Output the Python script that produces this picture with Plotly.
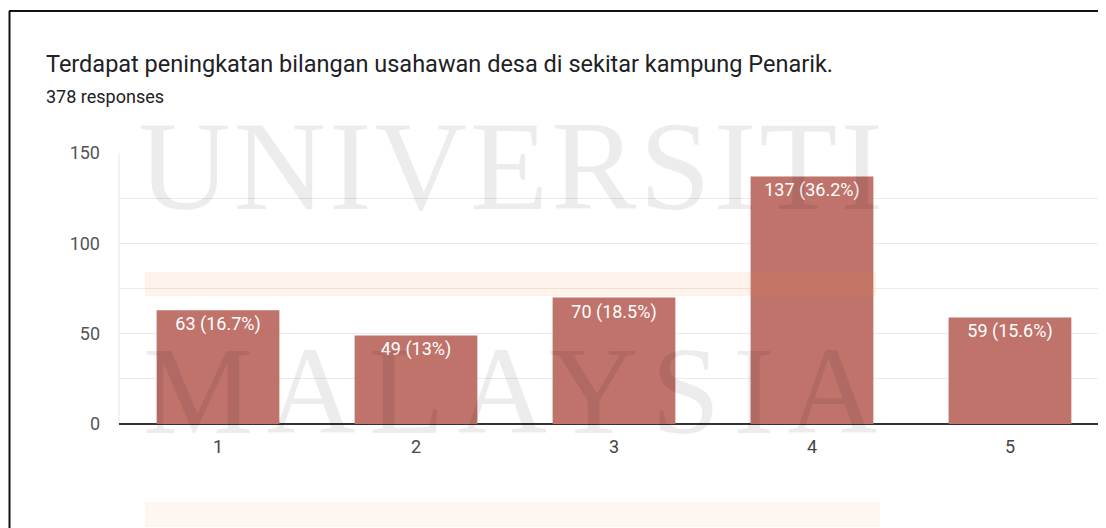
import plotly.graph_objects as go

categories = ["1", "2", "3", "4", "5"]
counts = [63, 49, 70, 137, 59]
percent_labels = ["16.7%", "13%", "18.5%", "36.2%", "15.6%"]
y_tick_values = [0, 25, 50, 75, 100, 125, 150]
y_tick_labels = ["0", "", "50", "", "100", "", "150"]

title_text = "Terdapat peningkatan bilangan usahawan desa di sekitar kampung Penarik."
subtitle_text = "378 responses"

# page body has an 8px margin; work in window pixels and shift
OFF = 8
W, H = 1106 - OFF, 528 - OFF
L, R, T, B = 119 - OFF, 0, 153 - OFF, 528 - 424
pw, ph = W - L - R, H - T - B

def px(x):
    return (x - OFF - L) / pw

def py(y):
    return 1 - (y - OFF - T) / ph

xpos = list(range(1, len(categories) + 1))
labels = [f"{c} ({p})" for c, p in zip(counts, percent_labels)]

FONT = "Roboto, Arial, sans-serif"

fig = go.Figure()
fig.add_trace(go.Bar(
    x=xpos, y=counts, text=labels,
    textposition="inside", insidetextanchor="end", textangle=0,
    constraintext="none",
    textfont=dict(family=FONT, size=18, color="white"),
    marker=dict(color="#bf736b", line=dict(width=0)),
    width=0.62, hoverinfo="skip",
))

shapes = []
shapes.append(dict(type="rect", xref="paper", yref="paper", x0=px(145), x1=px(876), y0=py(296), y1=py(272),
                   fillcolor="rgba(245,140,60,0.10)", line=dict(width=0), layer="above"))
shapes.append(dict(type="rect", xref="paper", yref="paper", x0=px(145), x1=px(880), y0=py(527), y1=py(502),
                   fillcolor="rgba(245,140,60,0.07)", line=dict(width=0), layer="above"))
shapes.append(dict(type="line", xref="paper", yref="paper", x0=px(119), x1=px(119), y0=py(153), y1=py(424),
                   line=dict(color="#e6e6e6", width=1), layer="below"))
shapes.append(dict(type="line", xref="paper", yref="paper", x0=px(9), x1=px(1106), y0=py(11), y1=py(11),
                   line=dict(color="#111111", width=2)))
shapes.append(dict(type="line", xref="paper", yref="paper", x0=px(9.5), x1=px(9.5), y0=py(11), y1=py(528),
                   line=dict(color="#111111", width=2)))

WM = "rgba(0,0,0,0.075)"
annotations = [
    dict(text=title_text, xref="paper", yref="paper", x=px(44), y=py(64), xanchor="left", yanchor="middle",
         showarrow=False, font=dict(family=FONT, size=23.5, color="#202124")),
    dict(text=subtitle_text, xref="paper", yref="paper", x=px(44), y=py(97), xanchor="left", yanchor="middle",
         showarrow=False, font=dict(family=FONT, size=18, color="#202124")),
    dict(text='<span style="letter-spacing:3px">UNIVERSITI</span>', xref="paper", yref="paper",
         x=px(512), y=py(166), xanchor="center", yanchor="middle",
         showarrow=False, font=dict(family="Liberation Serif, Times New Roman, serif", size=128, color=WM)),
    dict(text='<span style="letter-spacing:13px">MALAYSIA</span>', xref="paper", yref="paper",
         x=px(516), y=py(391), xanchor="center", yanchor="middle",
         showarrow=False, font=dict(family="Liberation Serif, Times New Roman, serif", size=124, color=WM)),
]

fig.update_layout(
    width=W, height=H,
    margin=dict(l=L, r=R, t=T, b=B, pad=0),
    paper_bgcolor="white", plot_bgcolor="white",
    showlegend=False,
    shapes=shapes, annotations=annotations,
    xaxis=dict(range=[0.5, 5.485], tickmode="array", tickvals=xpos, ticktext=categories,
               showgrid=False, zeroline=False, showline=False, ticks="", fixedrange=True,
               ticklabelstandoff=10,
               tickfont=dict(family=FONT, size=18, color="#444444")),
    yaxis=dict(range=[0, 150], tickmode="array", tickvals=y_tick_values, ticktext=y_tick_labels,
               showgrid=True, gridcolor="#ebebeb", gridwidth=1,
               zeroline=True, zerolinecolor="#333333", zerolinewidth=1.5,
               showline=False, ticks="", ticklabelstandoff=18,
               tickfont=dict(family=FONT, size=18, color="#555555")),
)

fig.write_html("out.html")
